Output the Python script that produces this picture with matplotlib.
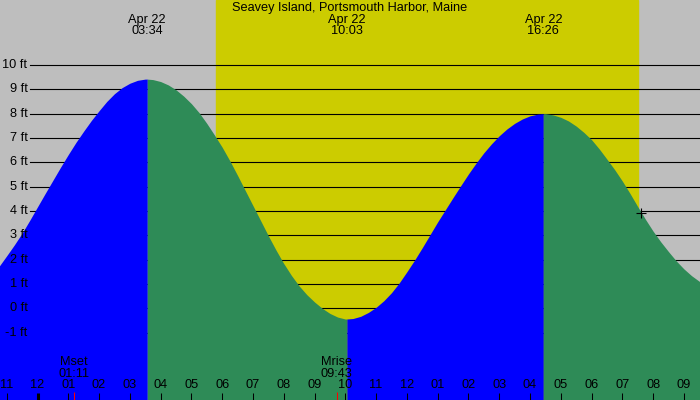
import matplotlib
matplotlib.use("Agg")
import matplotlib.pyplot as plt
import matplotlib.transforms as mtransforms
import numpy as np

plt.rcParams['font.family'] = ['Liberation Sans', 'DejaVu Sans']

# tide height readings (hours after midnight Apr 22, feet)
tide_hours = [-1.5, -1.25, -1.0, -0.75, -0.5, -0.25, 0.0, 0.25, 0.5, 0.75, 1.0, 1.25,
              1.5, 1.75, 2.0, 2.25, 2.5, 2.75, 3.0, 3.25, 3.5,
              3.75, 4.0, 4.25, 4.5, 4.75, 5.0, 5.25, 5.5, 5.75, 6.0, 6.25, 6.5, 6.75,
              7.0, 7.25, 7.5, 7.75, 8.0, 8.25, 8.5, 8.75, 9.0, 9.25, 9.5, 9.75, 10.0,
              10.25, 10.5, 10.75, 11.0, 11.25, 11.5, 11.75, 12.0, 12.25, 12.5, 12.75,
              13.0, 13.25, 13.5, 13.75, 14.0, 14.25, 14.5, 14.75, 15.0, 15.25, 15.5,
              15.75, 16.0, 16.25,
              16.5, 16.75, 17.0, 17.25, 17.5, 17.75, 18.0, 18.25, 18.5, 18.75, 19.0,
              19.25, 19.5, 19.75, 20.0, 20.25, 20.5, 20.75, 21.0, 21.25, 21.5, 21.75]
tide_ft = [1.30, 1.72, 2.16, 2.61, 3.09, 3.62, 4.17, 4.72, 5.26, 5.80, 6.32, 6.82,
           7.28, 7.72, 8.12, 8.50, 8.82, 9.07, 9.25, 9.37, 9.42,
           9.40, 9.32, 9.18, 8.98, 8.72, 8.41, 8.04, 7.60, 7.12, 6.62, 6.06, 5.46, 4.84,
           4.22, 3.60, 2.98, 2.39, 1.84, 1.35, 0.92, 0.56, 0.26, 0.00, -0.21, -0.36, -0.44,
           -0.42, -0.33, -0.17, 0.04, 0.31, 0.64, 1.04, 1.50, 1.98, 2.49, 3.02,
           3.55, 4.05, 4.55, 5.04, 5.52, 5.97, 6.39, 6.76, 7.09, 7.37, 7.60,
           7.78, 7.91, 7.98,
           8.00, 7.95, 7.85, 7.70, 7.49, 7.23, 6.93, 6.55, 6.13, 5.70, 5.23,
           4.72, 4.18, 3.66, 3.17, 2.73, 2.33, 1.95, 1.62, 1.34, 1.11, 0.92]

# high / low tides
extreme_hours = [3 + 34 / 60, 10 + 3 / 60, 16 + 26 / 60]
extreme_ft = [9.42, -0.44, 8.00]
extreme_dates = ['Apr 22', 'Apr 22', 'Apr 22']
extreme_times = ['03:34', '10:03', '16:26']

# sun and moon
sunrise_hour = 5.8
sunset_hour = 19.5
moon_hours = [1 + 11 / 60, 9 + 43 / 60]
moon_names = ['Mset', 'Mrise']
moon_times = ['01:11', '09:43']

now_hour = 19.6
now_ft = 3.92

ft_levels = list(range(-1, 11))
ft_labels = [f'{v} ft' for v in ft_levels]
hour_ticks = list(range(-1, 22))
hour_labels = ['11', '12', '01', '02', '03', '04', '05', '06', '07', '08', '09', '10',
               '11', '12', '01', '02', '03', '04', '05', '06', '07', '08', '09']

title = 'Seavey Island, Portsmouth Harbor, Maine'

W, H = 700, 400
px_hour = 30.78
x0 = 37.5
ft0_y = 308.3
px_ft = 24.33

fig = plt.figure(figsize=(7, 4), dpi=100)
ax = fig.add_axes([0, 0, 1, 1])
ax.set_xlim(-x0 / px_hour, (W - x0) / px_hour)
ax.set_ylim((ft0_y - H) / px_ft, ft0_y / px_ft)
ax.axis('off')

ax.axvspan(-5, 30, color='#bebebe', zorder=0)
ax.axvspan(sunrise_hour, sunset_hour, color='#cccc00', zorder=0.5)

for v in ft_levels:
    ax.axhline(v, xmin=29.5 / W, xmax=1, color='black', lw=0.8, zorder=1)

# fill between the extremes: blue while rising, green while falling
hours = np.array(tide_hours + extreme_hours)
feet = np.array(tide_ft + extreme_ft)
order = np.argsort(hours)
hours, feet = hours[order], feet[order]
bounds = [hours[0]] + extreme_hours + [hours[-1]]
bottom = ax.get_ylim()[0]
for a, b in zip(bounds[:-1], bounds[1:]):
    m = (hours >= a) & (hours <= b)
    seg_h, seg_f = hours[m], feet[m]
    col = '#0000ff' if seg_f[-1] > seg_f[0] else '#2e8b57'
    ax.fill_between(seg_h, seg_f, bottom, color=col, lw=0, zorder=2)

blend = mtransforms.blended_transform_factory(ax.transData, ax.transAxes)
blend_y = mtransforms.blended_transform_factory(ax.transAxes, ax.transData)

fs = 9.2
for v, lab in zip(ft_levels, ft_labels):
    ax.text(27.5 / W, v, lab, transform=blend_y, ha='right', va='center', fontsize=fs, zorder=5)

ax.text(0.5, 1 - 8 / H, title, transform=ax.transAxes, ha='center', va='center', fontsize=fs, zorder=5)
for t, d, s in zip(extreme_hours, extreme_dates, extreme_times):
    ax.text(t, 1 - 20 / H, d, transform=blend, ha='center', va='center', fontsize=fs, zorder=5)
    ax.text(t, 1 - 31.5 / H, s, transform=blend, ha='center', va='center', fontsize=fs, zorder=5)

for t, n, s in zip(moon_hours, moon_names, moon_times):
    ax.text(t, 1 - 361.7 / H, n, transform=blend, ha='center', va='center', fontsize=fs, zorder=5)
    ax.text(t, 1 - 374 / H, s, transform=blend, ha='center', va='center', fontsize=fs, zorder=5)
    ax.vlines(t, 0, 8 / H, transform=blend, color='red', lw=0.75, zorder=5)

for t, lab in zip(hour_ticks, hour_labels):
    ax.text(t, 1 - 385.5 / H, lab, transform=blend, ha='center', va='center', fontsize=fs, zorder=5)
    ax.vlines(t, 0, 7.5 / H, transform=blend, color='black',
              lw=2.2 if t == 0 else 0.75, zorder=5)

ax.plot(now_hour, now_ft, marker='+', color='black', ms=7, mew=0.8, zorder=6)

fig.savefig('out.png', dpi=100)
